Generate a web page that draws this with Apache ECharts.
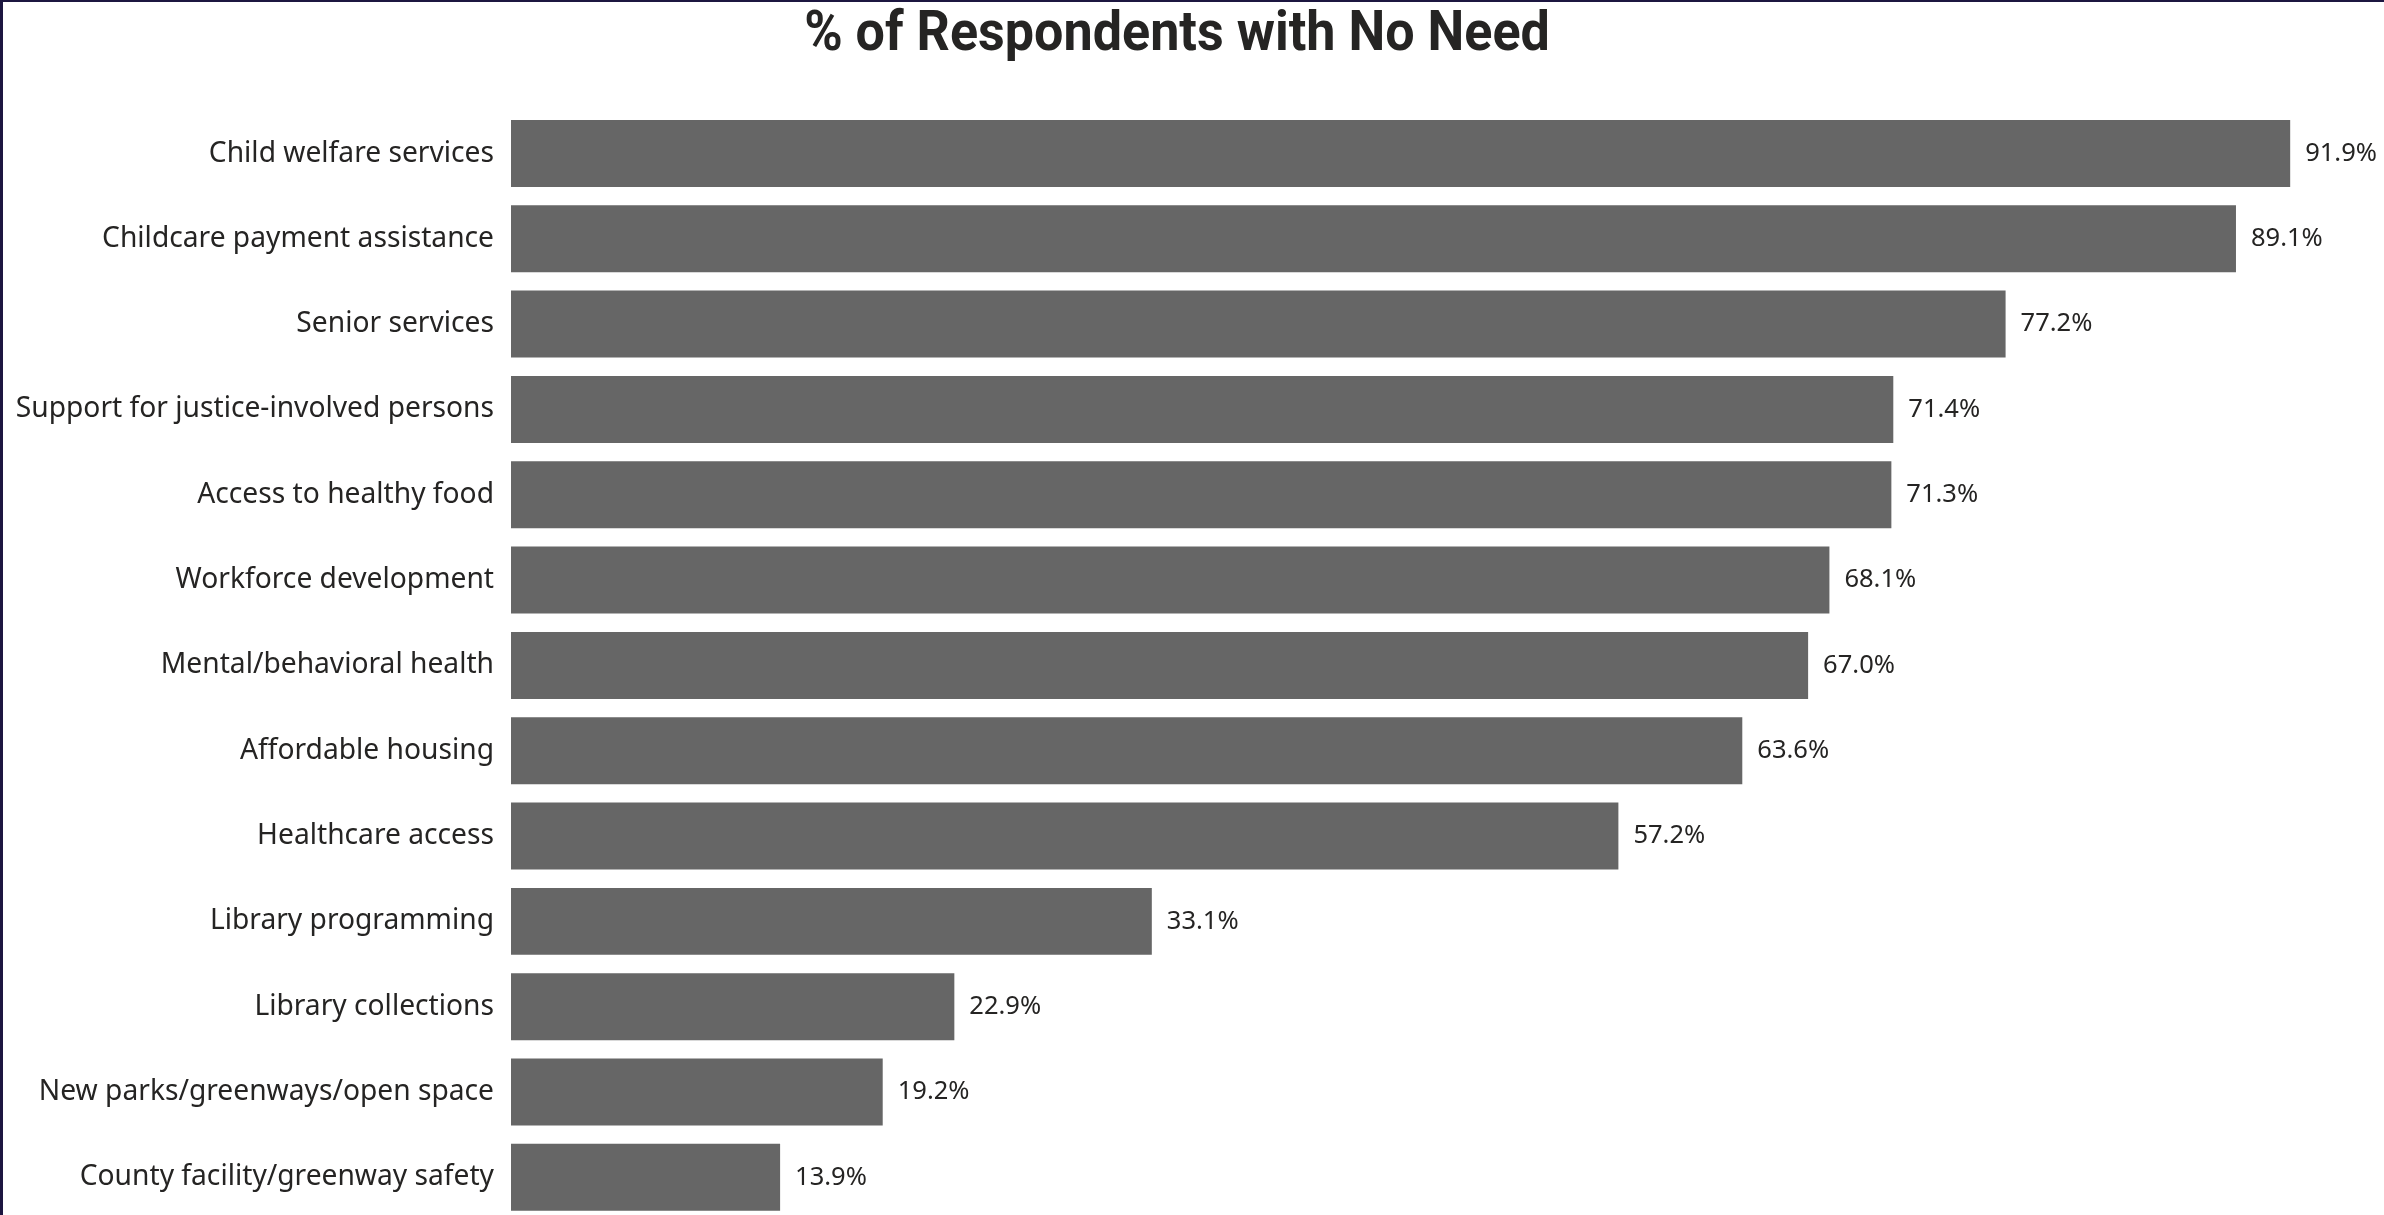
<!DOCTYPE html>
<html>
<head>
<meta charset="utf-8">
<script src="https://cdn.jsdelivr.net/npm/echarts@6/dist/echarts.min.js"></script>
<style>
html,body{margin:0;padding:0;background:#fff;overflow:hidden;width:2384px;height:1215px;}
#chart{position:absolute;left:0;top:0;width:2447px;height:1220px;}
#bl{position:absolute;left:0;top:0;width:3px;height:1215px;background:#1c1640;}
#bt{position:absolute;left:0;top:0;width:2384px;height:2px;background:#1c1640;}
</style>
</head>
<body>
<div id="chart"></div>
<div id="bl"></div>
<div id="bt"></div>
<script>
const titleText = '% of Respondents with No Need';
const categories = [
  'Child welfare services',
  'Childcare payment assistance',
  'Senior services',
  'Support for justice-involved persons',
  'Access to healthy food',
  'Workforce development',
  'Mental/behavioral health',
  'Affordable housing',
  'Healthcare access',
  'Library programming',
  'Library collections',
  'New parks/greenways/open space',
  'County facility/greenway safety'
];
const values = [91.9, 89.1, 77.2, 71.4, 71.3, 68.1, 67.0, 63.6, 57.2, 33.1, 22.9, 19.2, 13.9];

const chart = echarts.init(document.getElementById('chart'), null, {renderer: 'canvas'});
chart.setOption({
  animation: false,
  backgroundColor: '#ffffff',
  graphic: [{
    type: 'text',
    x: 1177,
    y: 36,
    scaleX: 0.93,
    style: {
      text: titleText,
      align: 'center',
      verticalAlign: 'middle',
      fontFamily: 'Roboto, sans-serif',
      fontWeight: 'bold',
      fontSize: 56,
      fill: '#252423'
    }
  }],
  grid: {left: 511, right: 0, top: 110.8, bottom: 0, containLabel: false},
  xAxis: {
    type: 'value', min: 0, max: 100,
    show: false
  },
  yAxis: {
    type: 'category',
    data: categories,
    inverse: true,
    axisLine: {show: false},
    axisTick: {show: false},
    splitLine: {show: false},
    axisLabel: {
      margin: 17,
      fontFamily: '"Noto Sans", sans-serif',
      fontSize: 28.2,
      color: '#252423'
    }
  },
  series: [{
    type: 'bar',
    data: values,
    barCategoryGap: '21.5%',
    itemStyle: {color: '#666666'},
    label: {
      show: true,
      position: 'right',
      distance: 15,
      fontFamily: '"Noto Sans", sans-serif',
      fontSize: 25.5,
      color: '#252423',
      formatter: p => p.value.toFixed(1) + '%'
    }
  }]
});
</script>
</body>
</html>
